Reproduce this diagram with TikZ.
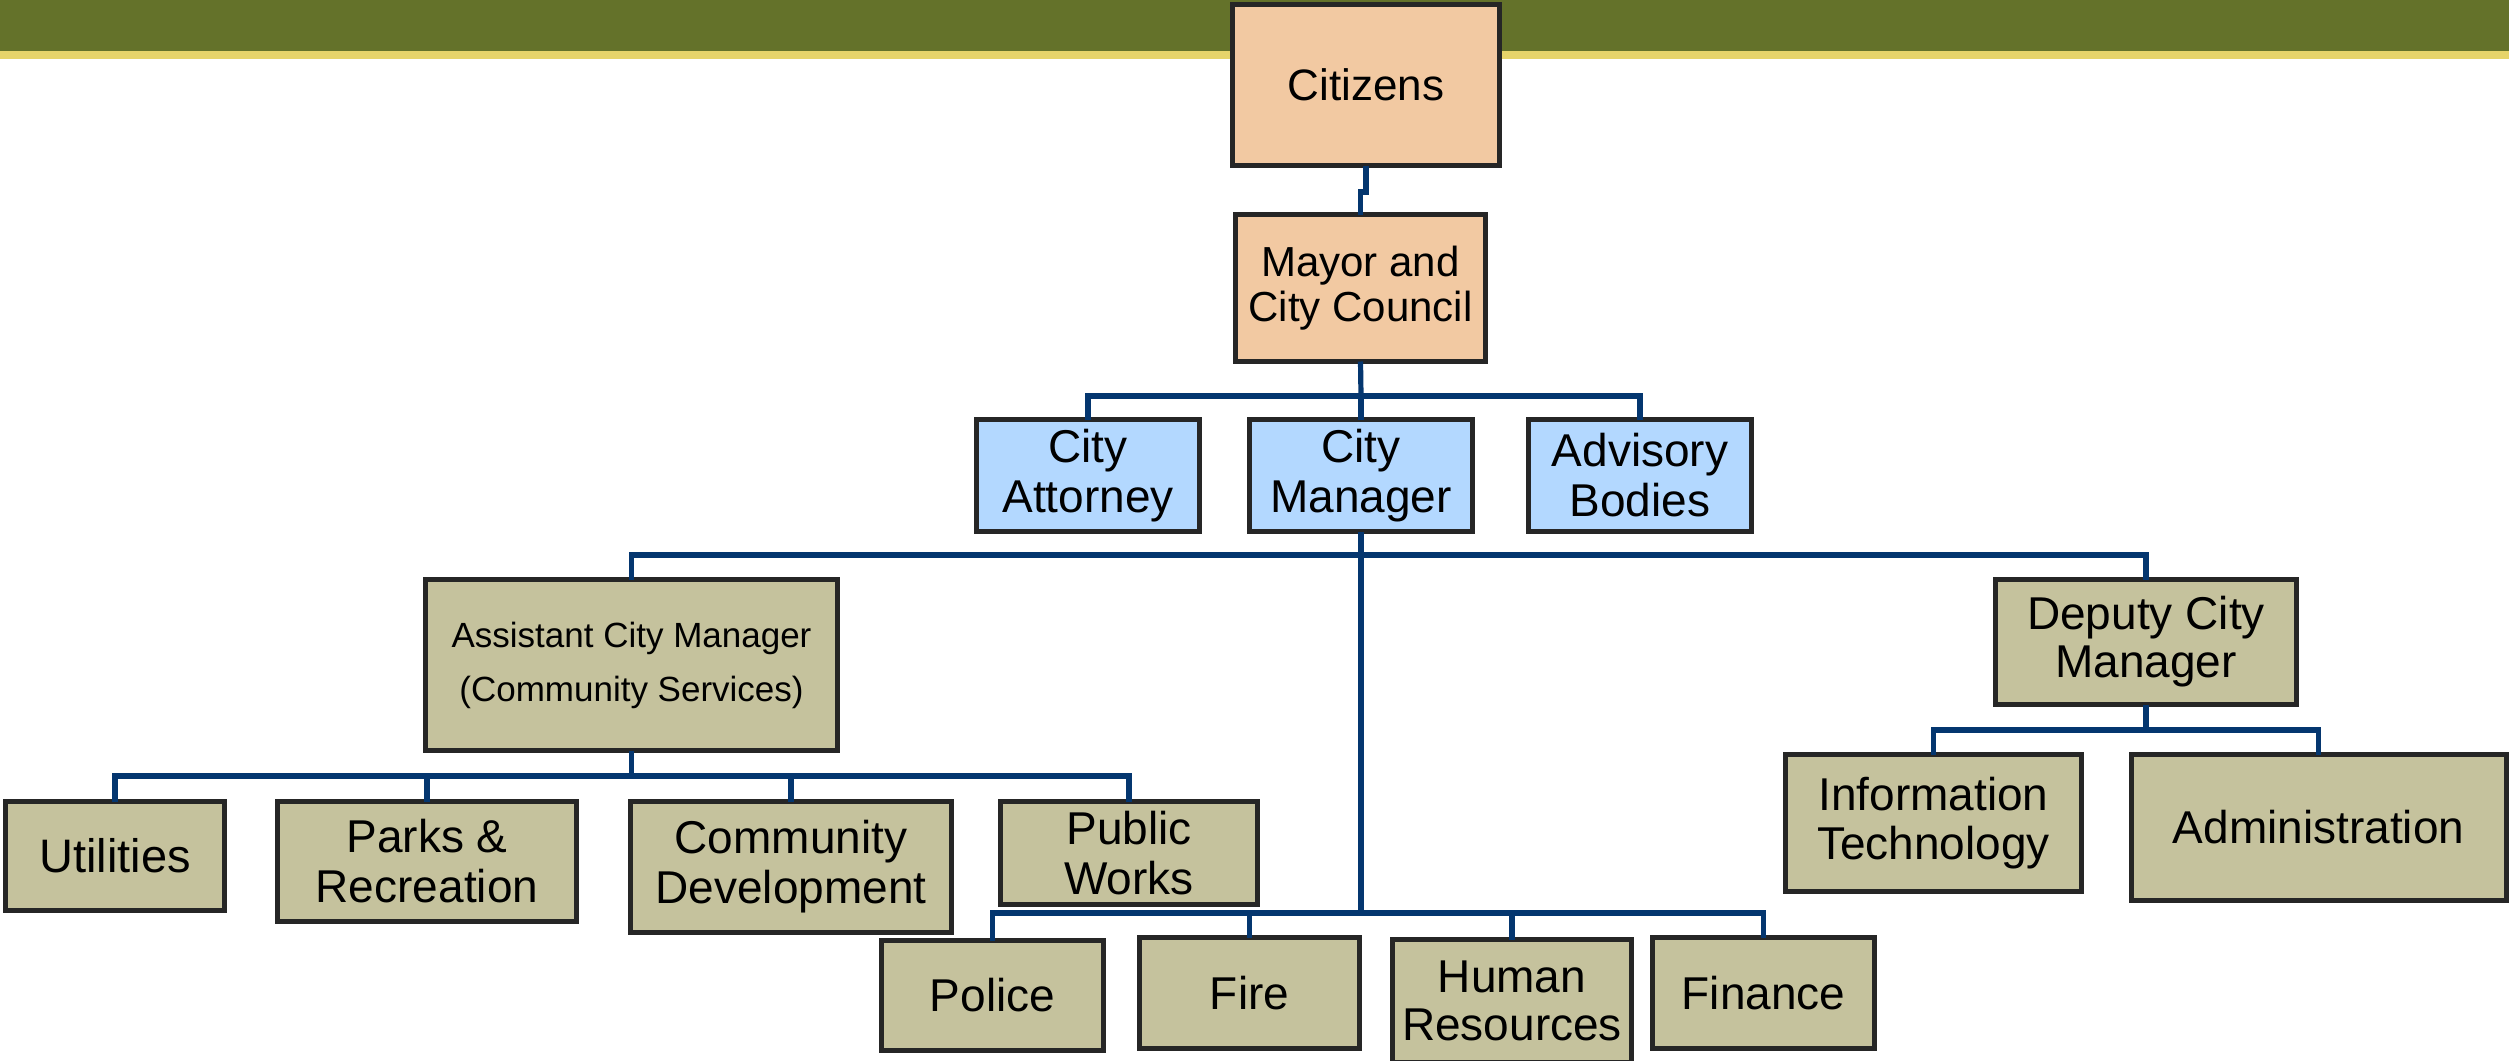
\documentclass[tikz,border=0pt]{standalone}
\usepackage{fontspec}
\setmainfont{Liberation Sans}
\definecolor{bandgreen}{HTML}{64722A}
\definecolor{bandyellow}{HTML}{E6D46A}
\definecolor{peach}{HTML}{F2C9A2}
\definecolor{skyblue}{HTML}{B3D8FF}
\definecolor{khaki}{HTML}{C5C29D}
\definecolor{linkblue}{HTML}{04366F}
\definecolor{border}{HTML}{262626}
\begin{document}
\begin{tikzpicture}[x=0.5pt,y=-0.5pt,
  box/.style={draw=border, line width=2.5pt, rectangle, align=center, inner sep=0pt, outer sep=0pt},
  top/.style={box, fill=peach},
  mid/.style={box, fill=skyblue, font=\fontsize{23}{25}\selectfont},
  low/.style={box, fill=khaki, font=\fontsize{23}{25}\selectfont},
  link/.style={draw=linkblue, line width=2.6pt}]
\useasboundingbox (0,0) rectangle (2509,1060);
\fill[bandgreen] (0,0) rectangle (2509,51);
\fill[bandyellow] (0,51) rectangle (2509,59);

% nodes (centre, path size = outer size - 5px)
\node[top, font=\fontsize{22}{24}\selectfont, minimum width=133.5pt, minimum height=80.5pt] (cit) at (1366,85) {Citizens};
\node[top, font=\fontsize{21}{22.5}\selectfont, minimum width=125pt, minimum height=73.5pt] (may) at (1360.5,288) {Mayor and\\City Council};

\node[mid, minimum width=111.5pt, minimum height=56pt] (att) at (1088,475.5) {City\\Attorney};
\node[mid, minimum width=111.5pt, minimum height=56pt] (cm) at (1361,475.5) {City\\Manager};
\node[mid, minimum width=111.5pt, minimum height=56pt] (adv) at (1640,475.5) {Advisory\\Bodies};

\node[low, font=\fontsize{17.5}{27}\selectfont, minimum width=206pt, minimum height=85.5pt] (acm) at (631.5,665) {Assistant City Manager\\(Community Services)};
\node[low, font=\fontsize{23}{24}\selectfont, minimum width=150.5pt, minimum height=62.5pt] (dcm) at (2146,642) {Deputy City\\Manager};

\node[low, font=\fontsize{23.5}{25}\selectfont, minimum width=109.5pt, minimum height=54.5pt] (util) at (115,856) {Utilities};
\node[low, minimum width=149.5pt, minimum height=60pt] (parks) at (427,861.5) {Parks \&\\Recreation};
\node[low, minimum width=160.5pt, minimum height=65.5pt] (cd) at (791,867) {Community\\Development};
\node[low, minimum width=128.5pt, minimum height=51.5pt] (pw) at (1129,853) {Public\\Works};

\node[low, font=\fontsize{23}{24.5}\selectfont, minimum width=148pt, minimum height=68.5pt] (it) at (1933.5,823) {Information\\Technology};
\node[low, minimum width=187.5pt, minimum height=73pt] (adm) at (2318.5,827.5) {Administration};

\node[low, minimum width=111pt, minimum height=55pt] (pol) at (992.5,995.5) {Police};
\node[low, minimum width=110pt, minimum height=55.5pt] (fire) at (1249.5,993) {Fire};
\node[low, font=\fontsize{23}{24}\selectfont, minimum width=119.5pt, minimum height=61.5pt] (hr) at (1512,1001) {Human\\Resources};
\node[low, minimum width=111pt, minimum height=55.5pt] (fin) at (1763.5,993) {Finance};

% bus points
\coordinate (j0) at (1366,192);
\coordinate (b1) at (1361,396);
\coordinate (b2) at (1361,555);
\coordinate (b3) at (1361,913);
\coordinate (b4) at (631.5,776);
\coordinate (b5) at (2146,730);

% connectors
\draw[link] (cit.south) -- (j0) -| (may.north);
\draw[link] (may.south) -- (b1);
\draw[link] (att.north) |- (b1) -| (adv.north);
\draw[link] (b1) -- (cm.north);
\draw[link] (cm.south) -- (b2);
\draw[link] (acm.north) |- (b2) -| (dcm.north);
\draw[link] (b2) -- (b3);
\draw[link] (pol.north) |- (b3) -| (fin.north);
\draw[link] (fire.north) -- (fire.north |- b3);
\draw[link] (hr.north) -- (hr.north |- b3);
\draw[link] (acm.south) -- (b4);
\draw[link] (util.north) |- (b4) -| (pw.north);
\draw[link] (parks.north) -- (parks.north |- b4);
\draw[link] (cd.north) -- (cd.north |- b4);
\draw[link] (dcm.south) -- (b5);
\draw[link] (it.north) |- (b5) -| (adm.north);
\end{tikzpicture}
\end{document}
